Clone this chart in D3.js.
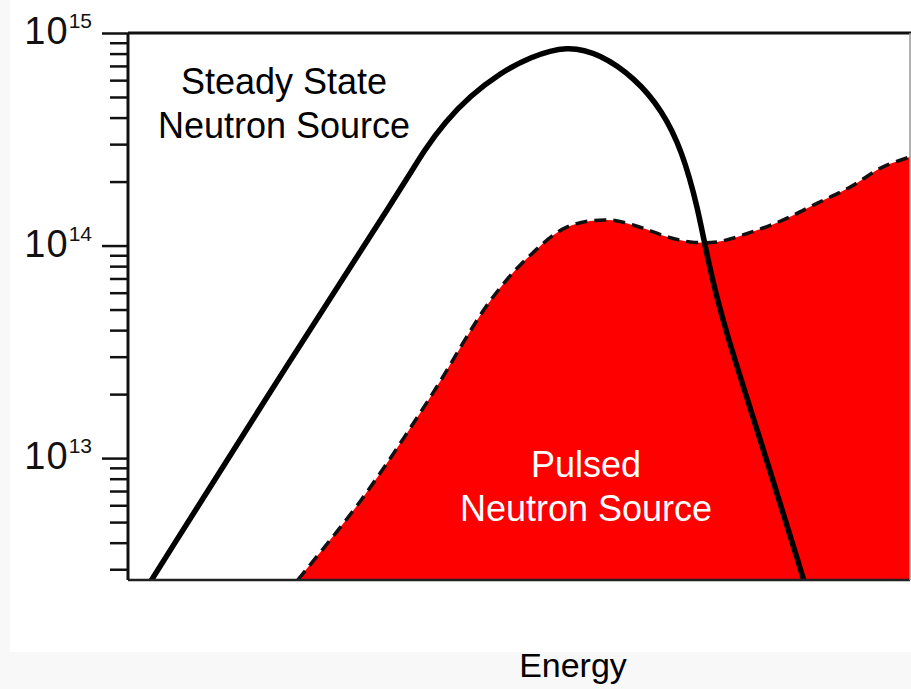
<!DOCTYPE html>
<html>
<head>
<meta charset="utf-8">
<script src="https://cdn.jsdelivr.net/npm/d3@7"></script>
<style>
  html, body { margin: 0; padding: 0; background: #ffffff; }
  svg { display: block; font-family: "Liberation Sans", Arial, Helvetica, sans-serif; }
</style>
</head>
<body>
<svg id="chart" width="911" height="689"></svg>
<script>
// ---- Data (energy in arbitrary units, flux values) ----
const steadyEnergy = [2.81, 20.72, 35.04, 37.98, 40.54, 43.73, 47.57, 51.41, 56.14, 60.36, 64.83, 68.29, 70.84, 72.89, 74.17, 76.34, 80.82, 86.32, 86.57];
const steadyFlux   = [2.6e12, 2.89e13, 1.88e14, 2.85e14, 3.81e14, 5.05e14, 6.48e14, 7.71e14, 8.75e14, 7.97e14, 6.14e14, 4.34e14, 2.81e14, 1.50e14, 8.37e13, 4.00e13, 1.24e13, 2.75e12, 2.55e12];

const pulsedEnergy = [21.7, 29.8, 38.4, 46.4, 51.2, 56.1, 61.3, 65.5, 68.9, 71.9, 75.3, 79.5, 83.8, 88.1, 92.3, 96.5, 100];
const pulsedFlux   = [2.67e12, 6.34e12, 1.87e13, 5.55e13, 8.83e13, 1.22e14, 1.32e14, 1.22e14, 1.10e14, 1.04e14, 1.04e14, 1.15e14, 1.32e14, 1.58e14, 1.88e14, 2.34e14, 2.61e14];

const majorTicks = [1e13, 1e14, 1e15];
const majorExponents = ["13", "14", "15"];
const minorTicks = [3e12, 4e12, 5e12, 6e12, 7e12, 8e12, 9e12,
                    2e13, 3e13, 4e13, 5e13, 6e13, 7e13, 8e13, 9e13,
                    2e14, 3e14, 4e14, 5e14, 6e14, 7e14, 8e14, 9e14];
const xLabel = "Energy";
const steadyLabel = ["Steady State", "Neutron Source"];
const pulsedLabel = ["Pulsed", "Neutron Source"];

// ---- Layout ----
const svg = d3.select("#chart");
const W = 911, H = 689;
const mLeft = 128, mRight = 910, mTop = 33, mBottom = 580;

// background (subtle grey margins of the scanned figure)
svg.append("rect").attr("x", 0).attr("y", 0).attr("width", W).attr("height", H).attr("fill", "#f8f8f8");
svg.append("rect").attr("x", 10).attr("y", 0).attr("width", W - 10).attr("height", 652).attr("fill", "#ffffff");

const x = d3.scaleLinear().domain([0, 100]).range([mLeft, mRight]);
const y = d3.scaleLog().domain([2.67e12, 1e15]).range([mBottom, mTop]);

const steady = steadyEnergy.map((e, i) => ({ e, v: steadyFlux[i] }));
const pulsed = pulsedEnergy.map((e, i) => ({ e, v: pulsedFlux[i] }));

svg.append("clipPath").attr("id", "plotclip")
  .append("rect").attr("x", mLeft).attr("y", mTop).attr("width", mRight - mLeft).attr("height", mBottom - mTop);

const plot = svg.append("g").attr("clip-path", "url(#plotclip)");

const curve = d3.curveCatmullRom.alpha(0.5);

// pulsed area
const area = d3.area()
  .x(d => x(d.e))
  .y0(y.range()[0] + 5)
  .y1(d => y(d.v))
  .curve(curve);
plot.append("path").datum(pulsed)
  .attr("d", area)
  .attr("fill", "#fe0000");

const line = d3.line().x(d => x(d.e)).y(d => y(d.v)).curve(curve);
plot.append("path").datum(pulsed)
  .attr("d", line)
  .attr("fill", "none")
  .attr("stroke", "#111")
  .attr("stroke-width", 3.5)
  .attr("stroke-dasharray", "12,7");

const smoothLine = d3.line().x(d => x(d.e)).y(d => y(d.v)).curve(d3.curveBasis);
plot.append("path").datum(steady)
  .attr("d", smoothLine)
  .attr("fill", "none")
  .attr("stroke", "#000")
  .attr("stroke-width", 5.5)
  .attr("stroke-linejoin", "round");

// ---- Frame ----
svg.append("line").attr("x1", mLeft).attr("x2", mRight + 1).attr("y1", mTop).attr("y2", mTop)
  .attr("stroke", "#111").attr("stroke-width", 3);
svg.append("line").attr("x1", mLeft).attr("x2", mRight).attr("y1", mBottom).attr("y2", mBottom)
  .attr("stroke", "#222").attr("stroke-width", 2.5);
svg.append("line").attr("x1", mRight).attr("x2", mRight).attr("y1", mTop).attr("y2", mBottom)
  .attr("stroke", "#999").attr("stroke-width", 1.5);

// ---- Y axis ----
const axisMinor = d3.axisLeft(y).tickValues(minorTicks).tickSize(18).tickFormat("");
const axisMajor = d3.axisLeft(y).tickValues(majorTicks).tickSize(26).tickFormat("");
const gMinor = svg.append("g").attr("transform", `translate(${mLeft},0)`).call(axisMinor);
const gMajor = svg.append("g").attr("transform", `translate(${mLeft},0)`).call(axisMajor);
[gMinor, gMajor].forEach(g => {
  g.selectAll(".tick line").attr("stroke", "#111").attr("stroke-width", 2.5);
  g.select(".domain").attr("stroke", "#111").attr("stroke-width", 3);
});
gMinor.select(".domain").remove();
gMajor.select(".domain").attr("d", `M0,${mTop}V${mBottom}`);

majorTicks.forEach((t, i) => {
  const txt = svg.append("text")
    .attr("x", 92).attr("y", y(t) + 11)
    .attr("text-anchor", "end")
    .attr("fill", "#111");
  txt.append("tspan").attr("font-size", 38).attr("letter-spacing", 1).text("10");
  txt.append("tspan").attr("font-size", 21).attr("dy", -16).text(majorExponents[i]);
});

// ---- Labels ----
svg.append("text").attr("x", 573).attr("y", 677).attr("text-anchor", "middle")
  .attr("font-size", 34).attr("fill", "#000").text(xLabel);

const sl = svg.append("text").attr("text-anchor", "middle").attr("font-size", 36).attr("fill", "#000");
steadyLabel.forEach((s, i) => sl.append("tspan").attr("x", 284).attr("y", 94 + i * 44).text(s));

const pl = svg.append("text").attr("text-anchor", "middle").attr("font-size", 36).attr("fill", "#fff");
pulsedLabel.forEach((s, i) => pl.append("tspan").attr("x", 586).attr("y", 477 + i * 44).text(s));
</script>
</body>
</html>
